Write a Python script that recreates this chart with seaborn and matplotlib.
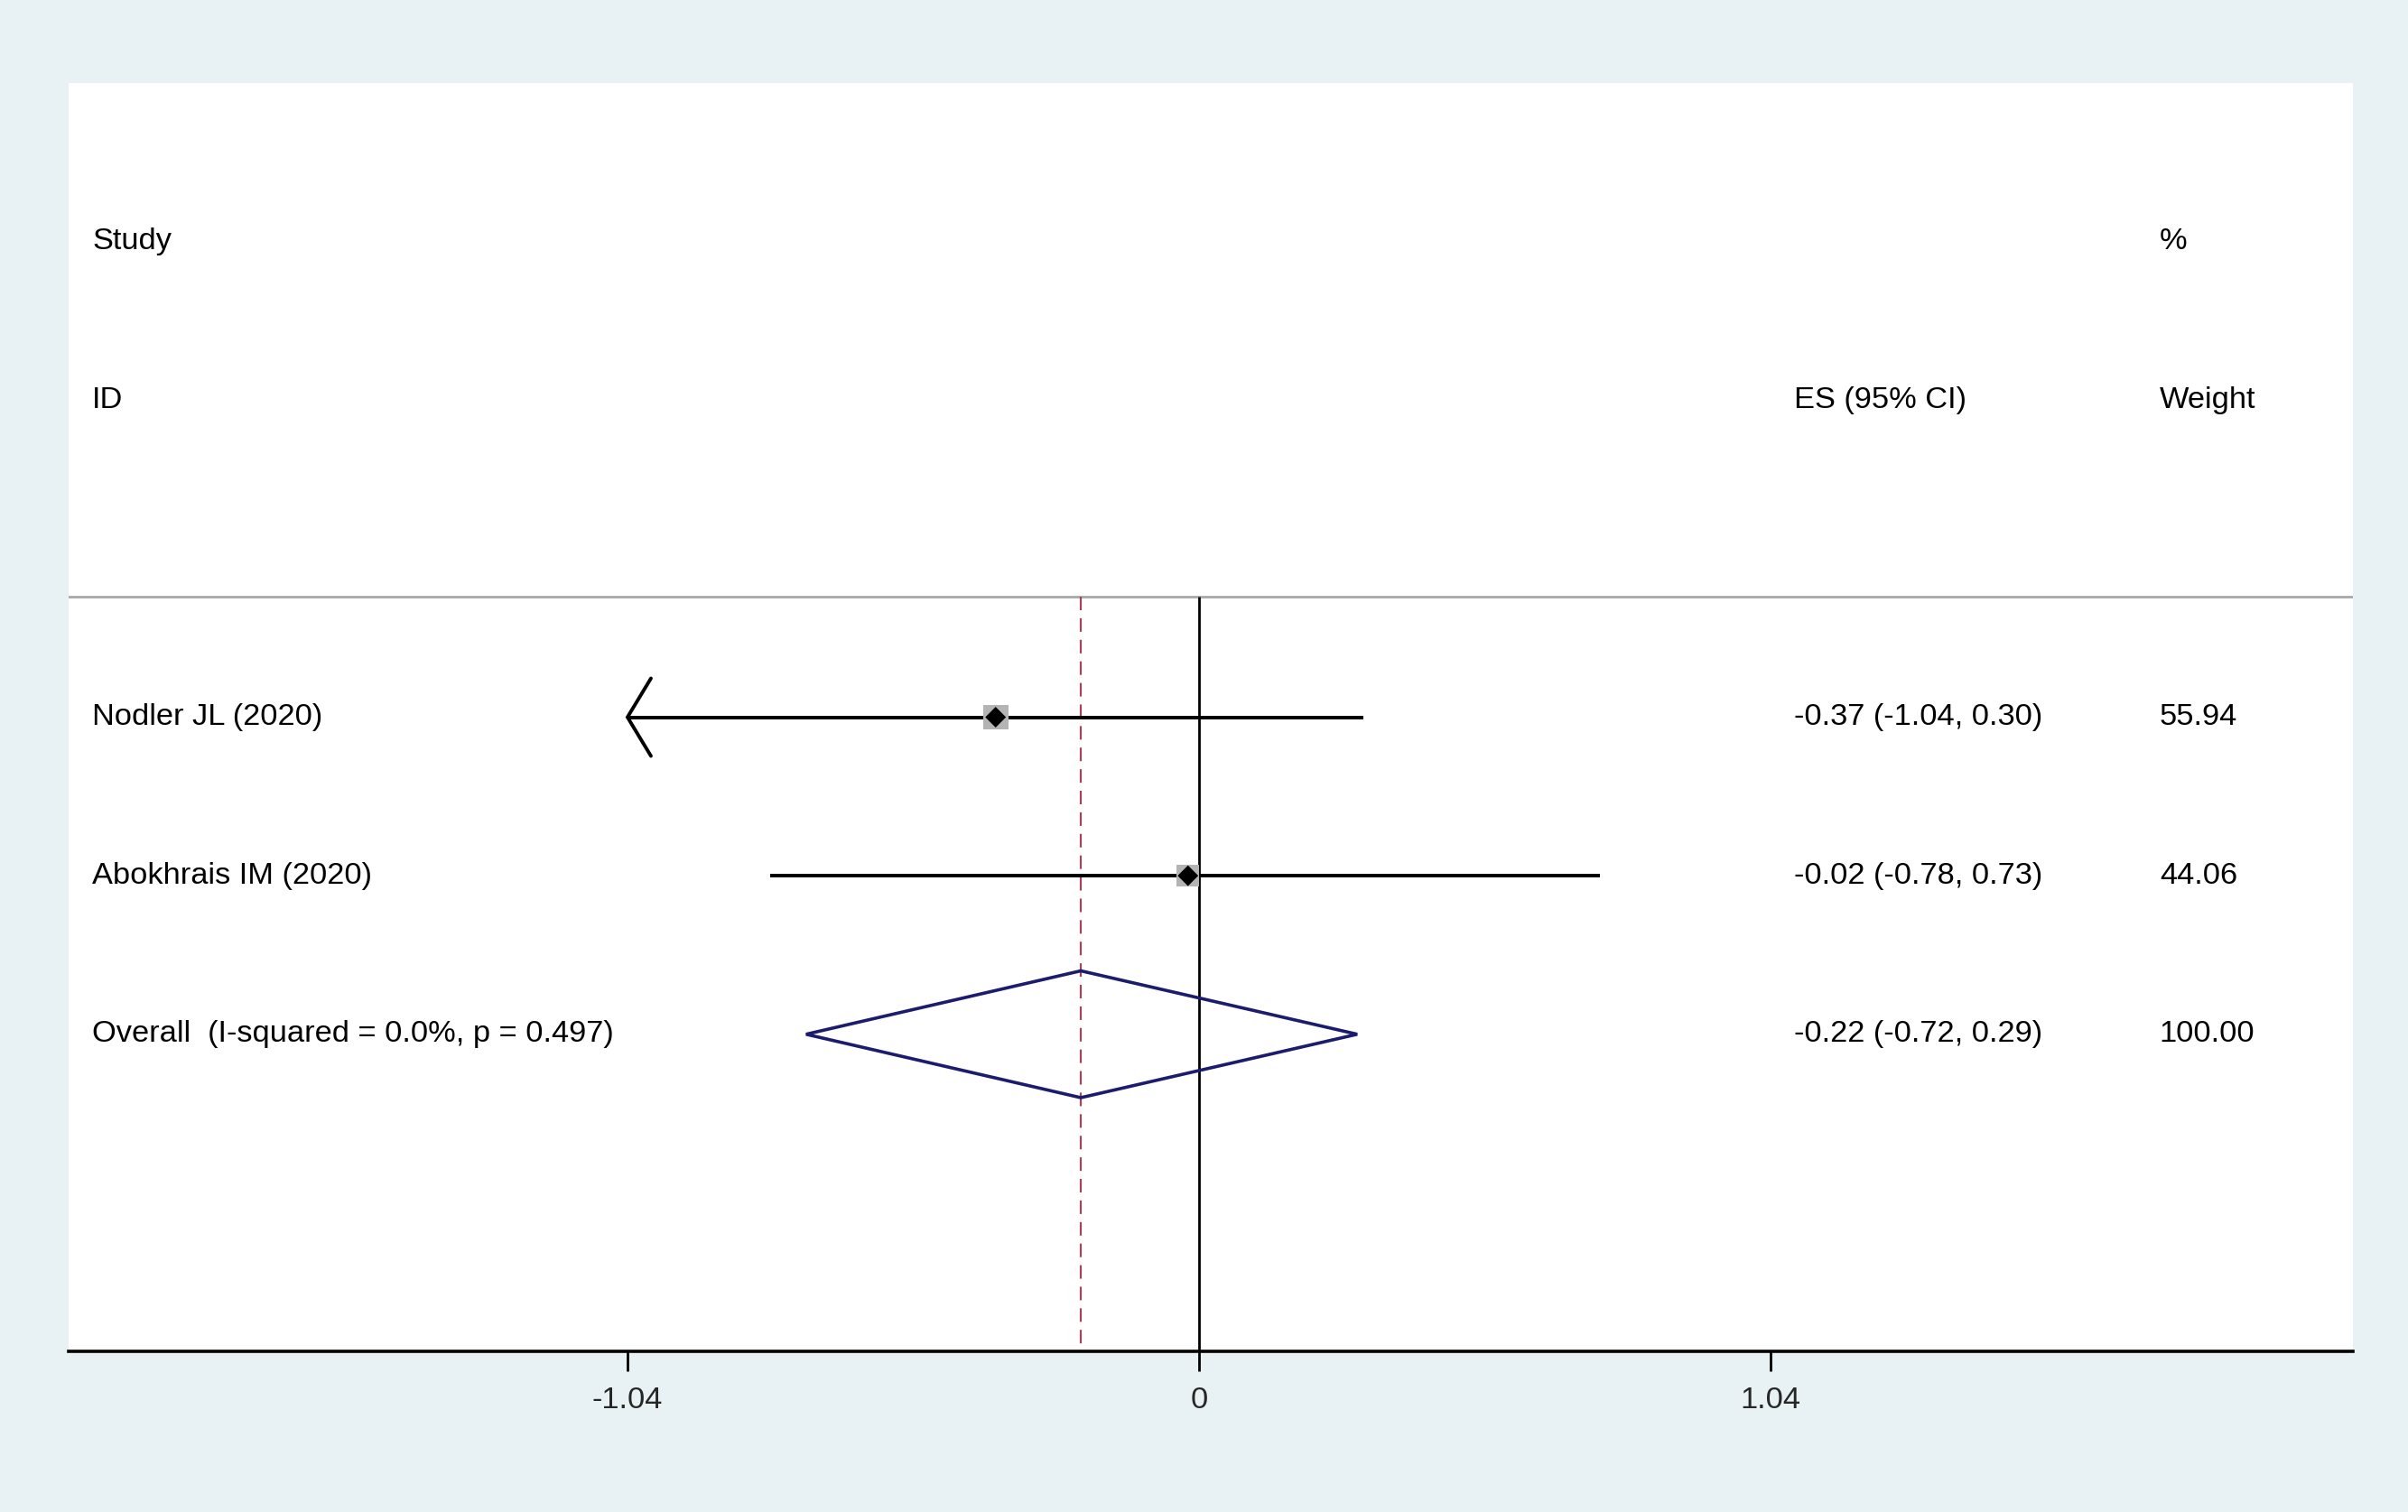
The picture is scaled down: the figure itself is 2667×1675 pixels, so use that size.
import matplotlib
matplotlib.use("Agg")
import matplotlib.pyplot as plt
import seaborn as sns
import pandas as pd
import numpy as np

# ---- data ----
studies = ["Nodler JL (2020)", "Abokhrais IM (2020)"]
es = [-0.37, -0.02]
ci_low = [-1.04, -0.78]
ci_high = [0.30, 0.73]
weights = [55.94, 44.06]
es_labels = ["-0.37 (-1.04, 0.30)", "-0.02 (-0.78, 0.73)"]
weight_labels = ["55.94", "44.06"]

overall_label = "Overall  (I-squared = 0.0%, p = 0.497)"
overall_es = -0.215
overall_low = -0.715
overall_high = 0.288
overall_es_label = "-0.22 (-0.72, 0.29)"
overall_weight_label = "100.00"

tick_values = [-1.04, 0, 1.04]
tick_labels = ["-1.04", "0", "1.04"]

# ---- style ----
sns.set_theme(style="white")
plt.rcParams['font.family'] = ['Liberation Sans', 'DejaVu Sans']
FS = 12.4
BG = "#E8F1F4"

fig = plt.figure(figsize=(2667/200, 1675/200), dpi=200, facecolor=BG)
ax = fig.add_axes([76/2667, 1 - 1497/1675, (2606-76)/2667, (1497-92)/1675])
ax.set_facecolor("white")

xmin, xmax = -2.057, 2.100
ax.set_xlim(xmin, xmax)
ax.set_ylim(7, -1)

rows = [3, 4]
overall_row = 5
line_top = 2.24
axis_min = min(tick_values)

df = pd.DataFrame({"study": studies, "es": es, "lo": ci_low, "hi": ci_high,
                   "w": weights, "row": rows})

# header separator
ax.axhline(line_top, color="#a8a8a8", lw=1.0, zorder=1)

# null line
ax.vlines(0, line_top, 7, color="black", lw=1.0, zorder=2)
# overall dashed line
lw_d = 0.8
ax.vlines(overall_es, line_top, 7, color="#a0485a", lw=lw_d,
          linestyles=[(0, (5.4/lw_d, 3.2/lw_d))], zorder=2)

# confidence intervals
for lo, hi, r in zip(ci_low, ci_high, rows):
    ax.hlines(r, lo, hi, color="black", lw=1.4, zorder=3)
    if lo <= axis_min:
        dx = 26/608.6
        dy = 0.245
        ax.plot([lo + dx, lo, lo + dx], [r - dy, r, r + dy], color="black",
                lw=1.4, solid_joinstyle="miter", zorder=3)

# weight boxes
sns.scatterplot(data=df, x="es", y="row", size="w",
                sizes=(1.8*min(weights), 1.8*max(weights)),
                size_norm=(min(weights), max(weights)),
                marker="s", color="#b4b4b4", edgecolor="none", legend=False,
                ax=ax, zorder=4)
# point estimates
sns.scatterplot(data=df, x="es", y="row", marker="D", s=34, color="black",
                edgecolor="none", legend=False, ax=ax, zorder=5)

# overall diamond
h = 0.40
ax.fill([overall_low, overall_es, overall_high, overall_es, overall_low],
        [overall_row, overall_row - h, overall_row, overall_row + h, overall_row],
        facecolor="none", edgecolor="#1c1c6e", lw=1.3, zorder=4)

# text columns
x_study = -2.014
x_es = 1.083
x_w = 1.748
kw = dict(fontsize=FS, va="center", ha="left", color="black")
ax.text(x_study, 0, "Study", **kw)
ax.text(x_study, 1, "ID", **kw)
ax.text(x_es, 1, "ES (95% CI)", **kw)
ax.text(x_w, 0, "%", **kw)
ax.text(x_w, 1, "Weight", **kw)
for s, el, wl, r in zip(studies, es_labels, weight_labels, rows):
    ax.text(x_study, r, s, **kw)
    ax.text(x_es, r, el, **kw)
    ax.text(x_w, r, wl, **kw)
ax.text(x_study, overall_row, overall_label, **kw)
ax.text(x_es, overall_row, overall_es_label, **kw)
ax.text(x_w, overall_row, overall_weight_label, **kw)

# axes styling
for sp in ["top", "right", "left"]:
    ax.spines[sp].set_visible(False)
ax.spines["bottom"].set_color("black")
ax.spines["bottom"].set_linewidth(1.3)
ax.set_yticks([])
ax.set_xticks(tick_values)
ax.set_xticklabels(tick_labels, fontsize=FS)
ax.tick_params(axis="x", direction="out", length=8, width=1.0, color="black",
               pad=6, bottom=True)
ax.set_xlabel("")
ax.set_ylabel("")

fig.savefig("out.png", dpi=200, facecolor=BG)
